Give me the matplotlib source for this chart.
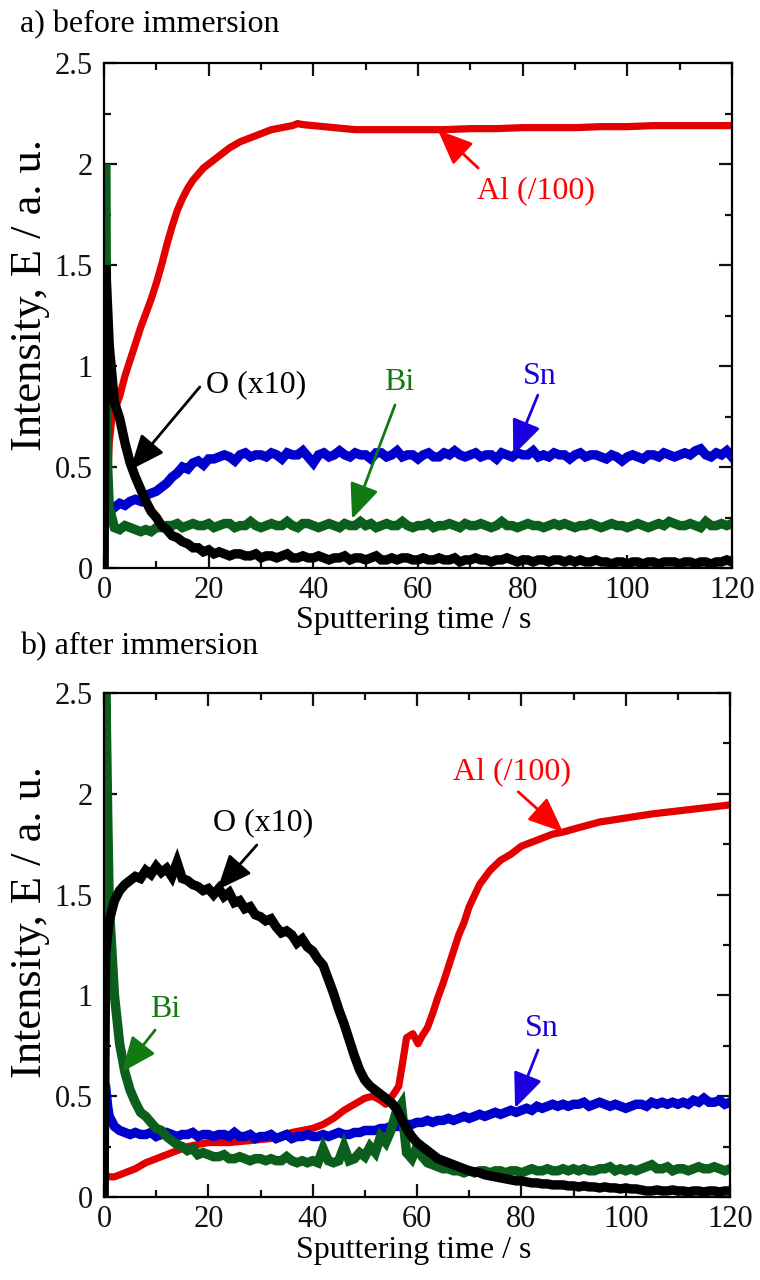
import matplotlib
matplotlib.use("Agg")
import matplotlib.pyplot as plt
from matplotlib.ticker import MultipleLocator, FuncFormatter

plt.rcParams['font.family'] = ['Liberation Serif', 'DejaVu Serif']

# ---------------- shared sampling grid (s) ----------------
time_grid = [0, 0.3, 0.7] + list(range(1, 121))

# ---------------- panel a: before immersion ----------------
al_a_time = [0, 0.3, 0.7, 1, 1.5, 2, 3, 4, 5, 6, 7, 8, 9, 10, 11, 12, 13, 14, 15, 16, 17, 18, 19, 20,
             22, 24, 26, 28, 30, 32, 34, 36, 37, 38, 40, 42, 44, 46, 48, 50, 55, 60, 65, 70, 75, 80,
             85, 90, 95, 100, 105, 110, 115, 120]
al_a = [0.12, 0.2, 0.45, 0.62, 0.74, 0.78, 0.85, 0.95, 1.03, 1.11, 1.19, 1.26, 1.33, 1.41, 1.50, 1.60,
        1.69, 1.77, 1.83, 1.88, 1.92, 1.95, 1.98, 2.00, 2.04, 2.08, 2.11, 2.13, 2.15, 2.17, 2.18, 2.19,
        2.20, 2.195, 2.19, 2.185, 2.18, 2.175, 2.17, 2.17, 2.17, 2.17, 2.17, 2.175, 2.175, 2.18, 2.18,
        2.18, 2.185, 2.185, 2.19, 2.19, 2.19, 2.19]

sn_a = [0.28, 0.31, 0.30,
        0.31, 0.30, 0.32, 0.31, 0.33, 0.34, 0.33, 0.36, 0.37, 0.38,
        0.40, 0.42, 0.45, 0.47, 0.50, 0.49, 0.52, 0.53, 0.51, 0.54,
        0.54, 0.55, 0.56, 0.55, 0.53, 0.56, 0.57, 0.55, 0.56, 0.56,
        0.55, 0.57, 0.56, 0.54, 0.57, 0.56, 0.56, 0.58, 0.55, 0.52,
        0.56, 0.57, 0.55, 0.56, 0.58, 0.56, 0.55, 0.57, 0.56, 0.56,
        0.54, 0.57, 0.57, 0.55, 0.56, 0.58, 0.55, 0.56, 0.56, 0.54,
        0.56, 0.57, 0.55, 0.55, 0.57, 0.56, 0.58, 0.56, 0.55, 0.56,
        0.57, 0.55, 0.56, 0.56, 0.54, 0.57, 0.56, 0.55, 0.57, 0.56,
        0.56, 0.58, 0.55, 0.56, 0.55, 0.57, 0.56, 0.56, 0.54, 0.56,
        0.57, 0.55, 0.56, 0.56, 0.55, 0.54, 0.56, 0.55, 0.53, 0.55,
        0.56, 0.55, 0.54, 0.56, 0.56, 0.55, 0.57, 0.56, 0.55, 0.56,
        0.57, 0.56, 0.58, 0.59, 0.56, 0.55, 0.57, 0.56, 0.58, 0.55]

bi_a = [0.0, 2.0, 0.5,
        0.30, 0.20, 0.19, 0.21, 0.20, 0.19, 0.18, 0.19, 0.18, 0.20,
        0.20, 0.21, 0.21, 0.22, 0.20, 0.21, 0.22, 0.21, 0.21, 0.22,
        0.20, 0.21, 0.22, 0.22, 0.20, 0.21, 0.21, 0.23, 0.21, 0.20,
        0.21, 0.22, 0.21, 0.21, 0.23, 0.21, 0.20, 0.22, 0.22, 0.21,
        0.20, 0.21, 0.22, 0.21, 0.20, 0.22, 0.21, 0.21, 0.23, 0.21,
        0.22, 0.20, 0.21, 0.22, 0.21, 0.21, 0.23, 0.21, 0.20, 0.21,
        0.21, 0.22, 0.20, 0.21, 0.21, 0.22, 0.21, 0.20, 0.22, 0.21,
        0.21, 0.22, 0.21, 0.20, 0.21, 0.23, 0.21, 0.21, 0.20, 0.21,
        0.22, 0.21, 0.21, 0.20, 0.21, 0.22, 0.21, 0.22, 0.21, 0.20,
        0.21, 0.21, 0.22, 0.21, 0.20, 0.21, 0.22, 0.21, 0.21, 0.20,
        0.21, 0.22, 0.21, 0.20, 0.21, 0.22, 0.21, 0.23, 0.22, 0.21,
        0.21, 0.22, 0.21, 0.20, 0.23, 0.21, 0.21, 0.22, 0.21, 0.22]

o_a = [0.0, 1.50, 1.28,
       1.10, 0.82, 0.74, 0.62, 0.52, 0.45, 0.39, 0.33, 0.28, 0.25,
       0.21, 0.19, 0.16, 0.15, 0.13, 0.12, 0.10, 0.10, 0.08, 0.09,
       0.07, 0.08, 0.07, 0.06, 0.07, 0.07, 0.06, 0.06, 0.07, 0.05,
       0.06, 0.06, 0.05, 0.06, 0.07, 0.05, 0.05, 0.06, 0.05, 0.05,
       0.06, 0.05, 0.04, 0.05, 0.05, 0.06, 0.04, 0.05, 0.05, 0.04,
       0.05, 0.06, 0.04, 0.04, 0.05, 0.04, 0.05, 0.05, 0.04, 0.04,
       0.05, 0.04, 0.04, 0.05, 0.04, 0.04, 0.05, 0.03, 0.04, 0.04,
       0.05, 0.04, 0.04, 0.03, 0.04, 0.04, 0.05, 0.04, 0.03, 0.04,
       0.04, 0.03, 0.04, 0.04, 0.03, 0.04, 0.04, 0.03, 0.04, 0.03,
       0.04, 0.03, 0.03, 0.04, 0.03, 0.03, 0.02, 0.03, 0.03, 0.02,
       0.03, 0.03, 0.02, 0.03, 0.03, 0.02, 0.03, 0.03, 0.03, 0.02,
       0.03, 0.03, 0.02, 0.03, 0.03, 0.02, 0.03, 0.03, 0.04, 0.03]

# ---------------- panel b: after immersion ----------------
al_b_time = [0.3, 1, 2, 3, 4, 5, 6, 8, 10, 12, 14, 16, 18, 20, 22, 24, 26, 28, 30, 32, 34, 36, 38, 40,
             42, 44, 46, 48, 50, 51.5, 53, 54, 55.5, 56.5, 57.2, 58, 59.2, 60.2, 61, 62, 63, 64, 65,
             66, 67, 68, 69, 70, 72, 74, 76, 78, 80, 82, 84, 86, 88, 90, 95, 100, 105, 110, 115, 120]
al_b = [0.11, 0.10, 0.10, 0.11, 0.12, 0.13, 0.14, 0.17, 0.19, 0.21, 0.23, 0.25, 0.26, 0.27, 0.27,
        0.27, 0.275, 0.28, 0.285, 0.29, 0.30, 0.32, 0.33, 0.34, 0.36, 0.39, 0.43, 0.46, 0.49, 0.50,
        0.48, 0.46, 0.51, 0.55, 0.66, 0.79, 0.81, 0.76, 0.80, 0.84, 0.91, 0.99, 1.06, 1.14, 1.22,
        1.30, 1.36, 1.44, 1.55, 1.62, 1.67, 1.70, 1.74, 1.76, 1.78, 1.80, 1.81, 1.825, 1.86, 1.88,
        1.90, 1.915, 1.93, 1.945]

sn_b = [0.57, 0.55, 0.45,
        0.40, 0.35, 0.33, 0.32, 0.31, 0.32, 0.31, 0.31, 0.32, 0.30,
        0.31, 0.32, 0.31, 0.30, 0.31, 0.31, 0.32, 0.30, 0.31, 0.31,
        0.30, 0.31, 0.31, 0.30, 0.32, 0.30, 0.30, 0.31, 0.29, 0.30,
        0.30, 0.31, 0.29, 0.30, 0.31, 0.29, 0.30, 0.30, 0.31, 0.30,
        0.30, 0.31, 0.30, 0.31, 0.32, 0.31, 0.31, 0.32, 0.32, 0.33,
        0.33, 0.33, 0.34, 0.34, 0.35, 0.35, 0.35, 0.36, 0.36, 0.37,
        0.37, 0.38, 0.37, 0.38, 0.38, 0.39, 0.38, 0.39, 0.40, 0.39,
        0.40, 0.41, 0.40, 0.41, 0.42, 0.41, 0.42, 0.43, 0.42, 0.43,
        0.44, 0.43, 0.45, 0.44, 0.45, 0.46, 0.45, 0.46, 0.45, 0.46,
        0.46, 0.47, 0.45, 0.46, 0.47, 0.46, 0.45, 0.46, 0.45, 0.44,
        0.45, 0.46, 0.46, 0.45, 0.47, 0.46, 0.47, 0.46, 0.47, 0.46,
        0.47, 0.46, 0.48, 0.47, 0.49, 0.47, 0.47, 0.48, 0.46, 0.47]

bi_b = [0.0, 2.6, 1.9,
        1.45, 1.00, 0.76, 0.62, 0.53, 0.47, 0.42, 0.40, 0.37, 0.34,
        0.33, 0.30, 0.28, 0.26, 0.25, 0.23, 0.24, 0.21, 0.22, 0.21,
        0.20, 0.20, 0.21, 0.19, 0.19, 0.20, 0.19, 0.18, 0.19, 0.19,
        0.18, 0.19, 0.18, 0.18, 0.20, 0.18, 0.17, 0.18, 0.17, 0.18,
        0.17, 0.24, 0.18, 0.17, 0.18, 0.25, 0.18, 0.19, 0.22, 0.20,
        0.25, 0.22, 0.30, 0.27, 0.33, 0.42, 0.46, 0.22, 0.19, 0.25,
        0.20, 0.17, 0.16, 0.15, 0.14, 0.14, 0.13, 0.13, 0.12, 0.13,
        0.12, 0.13, 0.13, 0.12, 0.13, 0.13, 0.12, 0.13, 0.13, 0.12,
        0.13, 0.14, 0.13, 0.13, 0.14, 0.13, 0.13, 0.14, 0.13, 0.14,
        0.13, 0.14, 0.13, 0.13, 0.14, 0.14, 0.15, 0.13, 0.14, 0.13,
        0.14, 0.13, 0.14, 0.15, 0.16, 0.14, 0.14, 0.15, 0.13, 0.14,
        0.14, 0.13, 0.14, 0.15, 0.14, 0.14, 0.15, 0.14, 0.13, 0.14]

o_b = [0.0, 1.20, 1.30,
       1.37, 1.47, 1.52, 1.55, 1.57, 1.59, 1.58, 1.62, 1.60, 1.64,
       1.61, 1.63, 1.59, 1.66, 1.58, 1.57, 1.55, 1.54, 1.52, 1.53,
       1.50, 1.53, 1.49, 1.51, 1.46, 1.47, 1.43, 1.44, 1.40, 1.39,
       1.37, 1.38, 1.34, 1.31, 1.32, 1.30, 1.26, 1.28, 1.24, 1.22,
       1.18, 1.15, 1.08, 1.01, 0.93, 0.86, 0.78, 0.70, 0.63, 0.58,
       0.55, 0.53, 0.51, 0.49, 0.47, 0.44, 0.39, 0.34, 0.30, 0.27,
       0.25, 0.23, 0.21, 0.19, 0.18, 0.17, 0.16, 0.15, 0.14, 0.13,
       0.125, 0.12, 0.11, 0.105, 0.10, 0.095, 0.09, 0.085, 0.08, 0.08,
       0.075, 0.07, 0.07, 0.065, 0.065, 0.06, 0.06, 0.06, 0.055, 0.055,
       0.05, 0.055, 0.05, 0.05, 0.045, 0.05, 0.045, 0.045, 0.04, 0.045,
       0.04, 0.04, 0.035, 0.03, 0.03, 0.035, 0.03, 0.03, 0.035, 0.03,
       0.03, 0.025, 0.03, 0.03, 0.025, 0.03, 0.03, 0.025, 0.03, 0.03]

x_ticks = [0, 20, 40, 60, 80, 100, 120]
y_ticks = [0, 0.5, 1, 1.5, 2, 2.5]

# annotation labels: (text, text position, arrow tail, arrow tip)
labels_a = [("Al (/100)", (82.6, 1.87), (71.5, 1.98), (63.8, 2.168)),
            ("O (x10)", (29.0, 0.906), (18.3, 0.896), (5.0, 0.485)),
            ("Bi", (56.4, 0.916), (55.6, 0.807), (47.4, 0.243)),
            ("Sn", (83.3, 0.946), (82.9, 0.856), (78.2, 0.559))]
labels_b = [("Al (/100)", (78.2, 2.11), (79.4, 2.01), (88.0, 1.81)),
            ("O (x10)", (30.5, 1.855), (29.3, 1.746), (21.7, 1.523)),
            ("Bi", (11.7, 0.928), (9.8, 0.828), (3.45, 0.62)),
            ("Sn", (84.0, 0.838), (83.2, 0.729), (78.8, 0.441))]

line_col = {"Al": "#e30000", "Sn": "#0000cc", "Bi": "#0b5e1c", "O": "#000000"}
text_col = {"Al": "#ff0000", "Sn": "#1a00e0", "Bi": "#137a13", "O": "#000000"}
arrow_col = {"Al": "#ff0000", "Sn": "#1a00e0", "Bi": "#137a13", "O": "#000000"}

W, H = 760, 1280
fig = plt.figure(figsize=(W / 100, H / 100), dpi=100)


def make_axes(rect_px):
    l, t, r, b = rect_px
    return fig.add_axes([l / W, 1 - b / H, (r - l) / W, (b - t) / H])


ax_a = make_axes((104, 63, 732, 568))
ax_b = make_axes((104, 693, 730, 1197))


def draw(ax, al_t, al, sn, bi, o, labels):
    ax.plot(al_t, al, color=line_col["Al"], lw=5.2, solid_joinstyle='round', zorder=2)
    ax.plot(time_grid, sn, color=line_col["Sn"], lw=6.8, solid_joinstyle='miter', zorder=3)
    ax.plot(time_grid, bi, color=line_col["Bi"], lw=6.8, solid_joinstyle='miter', zorder=4)
    ax.plot(time_grid, o, color=line_col["O"], lw=6.8, solid_joinstyle='miter', zorder=5)
    ax.set_xlim(0, 120)
    ax.set_ylim(0, 2.5)
    ax.set_xticks(x_ticks)
    ax.set_yticks(y_ticks)
    ax.xaxis.set_minor_locator(MultipleLocator(10))
    ax.yaxis.set_minor_locator(MultipleLocator(0.25))
    ax.yaxis.set_major_formatter(FuncFormatter(lambda v, p: "%g" % v))
    ax.xaxis.set_major_formatter(FuncFormatter(lambda v, p: "%g" % v))
    ax.tick_params(which='both', direction='in', top=True, right=True, width=1.6, colors='#111111')
    ax.tick_params(which='major', length=9.5, labelsize=22)
    ax.tick_params(which='minor', length=5)
    ax.tick_params(axis='x', which='major', pad=6)
    ax.tick_params(axis='y', which='major', pad=8)
    for s in ax.spines.values():
        s.set_linewidth(1.6)
        s.set_zorder(6)
    for text, tpos, tail, tip in labels:
        key = text.split()[0]
        ax.annotate('', xy=tip, xytext=tail,
                    arrowprops=dict(arrowstyle='-|>,head_length=0.9,head_width=0.38',
                                    mutation_scale=24, lw=2.0, color=arrow_col[key],
                                    shrinkA=0, shrinkB=0),
                    zorder=7)
        ax.text(tpos[0], tpos[1], text, color=text_col[key], fontsize=23,
                ha='center', va='center', zorder=8)


draw(ax_a, al_a_time, al_a, sn_a, bi_a, o_a, labels_a)
draw(ax_b, al_b_time, al_b, sn_b, bi_b, o_b, labels_b)

# titles, axis labels
fig.text(20 / W, 1 - 32 / H, "a) before immersion", fontsize=23, ha='left', va='baseline')
fig.text(20 / W, 1 - 654 / H, "b) after immersion", fontsize=23, ha='left', va='baseline')
fig.text(414 / W, 1 - 628 / H, "Sputtering time / s", fontsize=23, ha='center', va='baseline')
fig.text(414 / W, 1 - 1258 / H, "Sputtering time / s", fontsize=23, ha='center', va='baseline')
fig.text(30 / W, 1 - 295 / H, "Intensity, E / a. u.", fontsize=32, rotation=90, ha='center', va='center')
fig.text(30 / W, 1 - 922 / H, "Intensity, E / a. u.", fontsize=32, rotation=90, ha='center', va='center')

fig.savefig("out.png", dpi=100)
